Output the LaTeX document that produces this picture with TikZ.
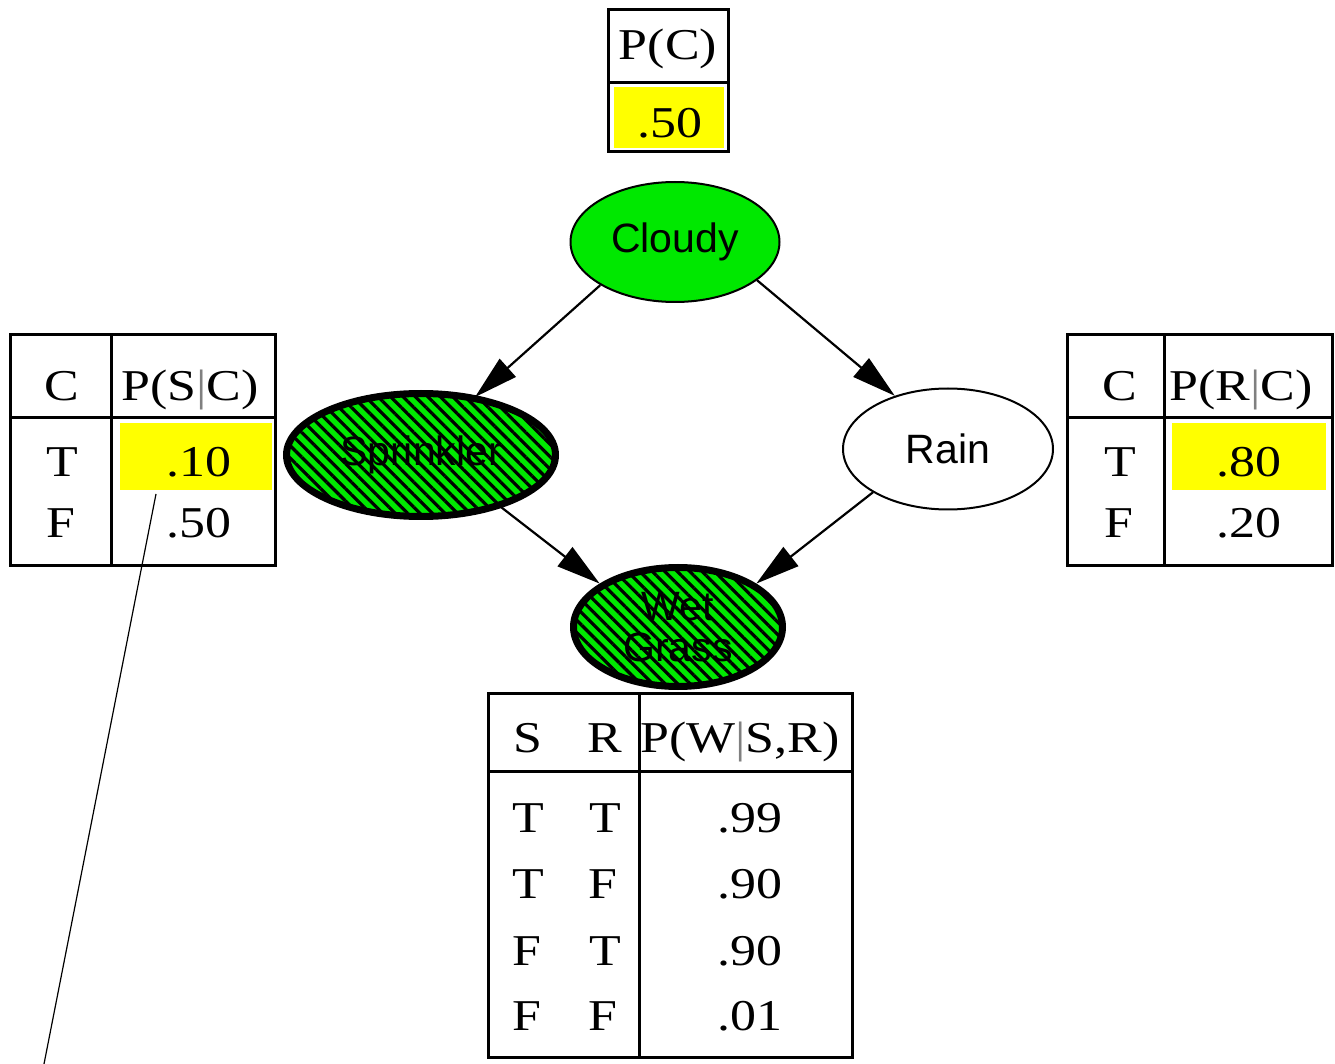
\documentclass[tikz,border=0pt]{standalone}
\usepackage{fontspec}
\setmainfont{Liberation Serif}[FakeStretch=1.18]
\newfontfamily\nodefont{Liberation Sans}
\usetikzlibrary{arrows.meta,patterns.meta,shapes.geometric}
\definecolor{nodegreen}{RGB}{0,232,0}
\definecolor{cellyellow}{RGB}{255,255,0}
\newcommand{\given}{\textcolor{gray}{|}}
\begin{document}
\begin{tikzpicture}[x=0.5pt,y=-0.5pt,
  var/.style={ellipse, draw, line width=1pt, inner sep=0pt,
    font=\nodefont\fontsize{20.5}{20.5}\selectfont, align=center},
  observed/.style={var, line width=3.5pt,
    preaction={fill=nodegreen},
    pattern={Lines[angle=-45,distance=4.4pt,line width=1.6pt]}},
  cell/.style={inner sep=0pt, anchor=base,
    font=\fontsize{22}{22}\selectfont},
  grid/.style={line width=1.5pt},
  edge/.style={line width=1.1pt, -{Triangle[length=22pt,width=12pt]}}
  ]
  \useasboundingbox (0,0) rectangle (1335,1064);
  % network
  \node[var, fill=nodegreen, minimum width=104.5pt, minimum height=60pt] (cloudy) at (675,242) {Cloudy};
  \node[observed, minimum width=134.5pt, minimum height=61.5pt] (sprinkler) at (421,455) {Sprinkler};
  \node[var, minimum width=105pt, minimum height=60.5pt] (rain) at (948,449) {Rain};
  \node[observed, minimum width=104.5pt, minimum height=59.5pt] (wet) at (678,627) {Wet\\Grass};
  \draw[edge] (cloudy.210) -- (sprinkler.47);
  \draw[edge] (cloudy.-25) -- (rain.135);
  \draw[edge] (sprinkler.-33) -- (wet.151);
  \draw[edge] (rain.-150) -- (wet.29);
  % P(C)
  \fill[cellyellow] (614,87) rectangle (724,148);
  \draw[grid] (608,10) rectangle (728,152) (608,83) -- (728,83);
  \node[cell] (pc) at (668,60) {P(C)};
  \node[cell] (pcv) at (670,138) {.50};
  % P(S|C)
  \fill[cellyellow] (120,423) rectangle (272,490);
  \draw[grid] (10,335) rectangle (275,565) (111,335) -- (111,565) (10,418) -- (275,418);
  \node[cell] (sc) at (62,401) {C};
  \node[cell] (sp) at (190,401) {P(S\given C)};
  \node[cell] (st) at (62,477) {T};
  \node[cell] (stv) at (199,477) {.10};
  \node[cell] (sf) at (61,538) {F};
  \node[cell] (sfv) at (199,538) {.50};
  % P(R|C)
  \fill[cellyellow] (1172,423) rectangle (1326,490);
  \draw[grid] (1067,335) rectangle (1332,565) (1164,335) -- (1164,565) (1067,418) -- (1332,418);
  \node[cell] (rc) at (1120,401) {C};
  \node[cell] (rp) at (1241,401) {P(R\given C)};
  \node[cell] (rt) at (1120,477) {T};
  \node[cell] (rtv) at (1249,477) {.80};
  \node[cell] (rf) at (1119,538) {F};
  \node[cell] (rfv) at (1249,538) {.20};
  % P(W|S,R)
  \draw[grid] (488,693) rectangle (852,1057) (639,693) -- (639,1057) (488,771) -- (852,771);
  \node[cell] (ws) at (528,752) {S};
  \node[cell] (wr) at (605,752) {R};
  \node[cell] (wp) at (740,752) {P(W\given S,R)};
  \node[cell] (w1s) at (528,832) {T}; \node[cell] (w1r) at (605,832) {T}; \node[cell] (w1) at (750,832) {.99};
  \node[cell] (w2s) at (528,898) {T}; \node[cell] (w2r) at (603,898) {F}; \node[cell] (w2) at (750,898) {.90};
  \node[cell] (w3s) at (527,965) {F}; \node[cell] (w3r) at (605,965) {T}; \node[cell] (w3) at (750,965) {.90};
  \node[cell] (w4s) at (527,1030) {F}; \node[cell] (w4r) at (603,1030) {F}; \node[cell] (w4) at (750,1030) {.01};
  % pointer line
  \coordinate (snote) at (156,494);
  \coordinate (tail) at (44,1064);
  \draw[line width=0.6pt] (snote) -- (tail);
\end{tikzpicture}
\end{document}
